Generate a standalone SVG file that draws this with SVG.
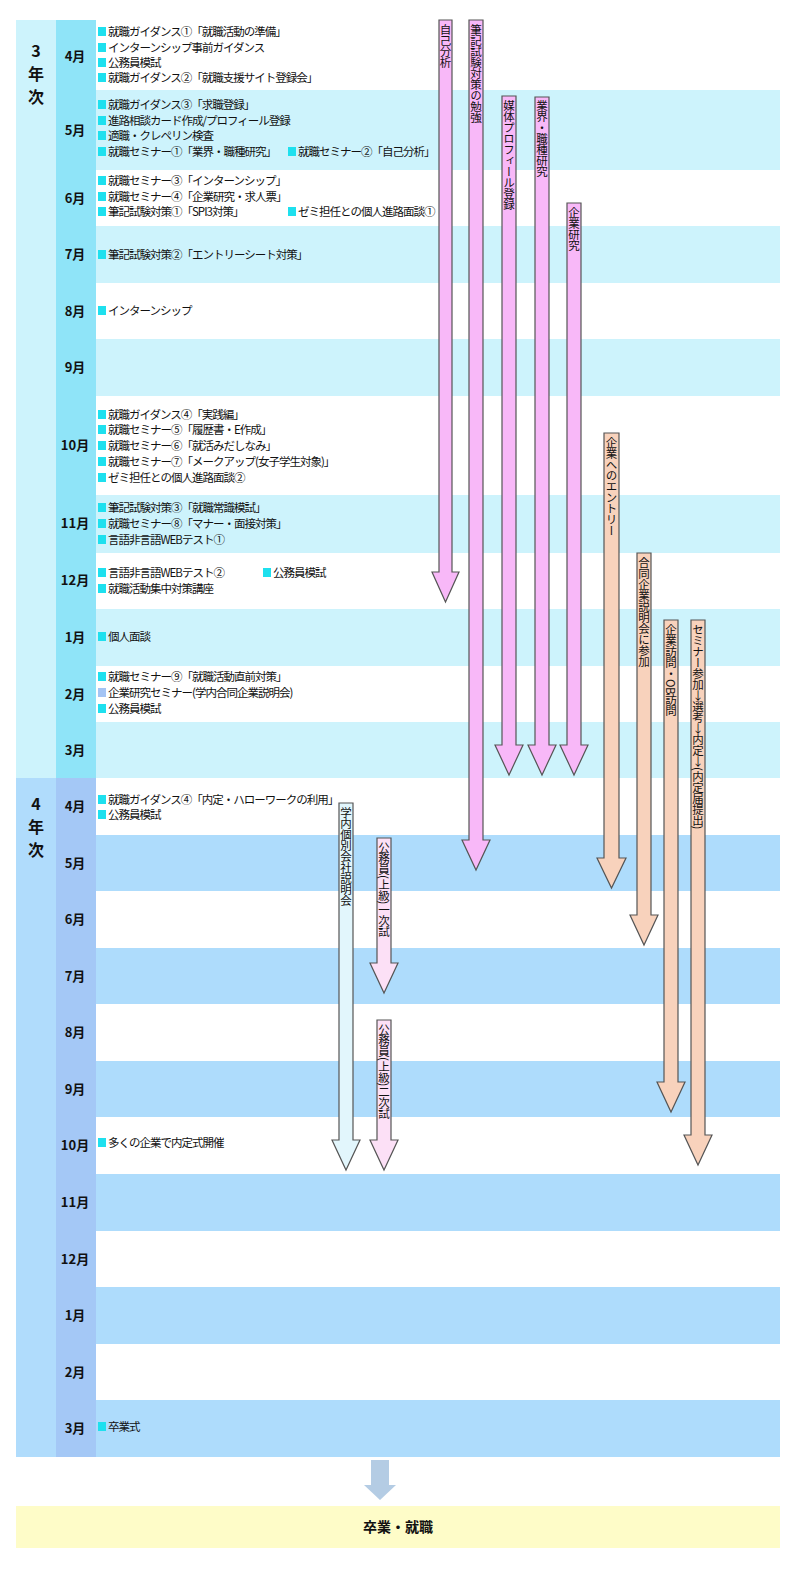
<svg xmlns="http://www.w3.org/2000/svg" width="800" height="1572" viewBox="0 0 800 1572">
<style>
text{font-family:"Noto Sans CJK JP","Liberation Sans",sans-serif;fill:#111}
.t{font-size:11.5px;letter-spacing:-1px}
.m{font-size:13px;font-weight:bold;text-anchor:middle}
.y{font-size:16px;font-weight:bold;text-anchor:middle}
.v{font-size:11.5px;writing-mode:vertical-rl;letter-spacing:-0.5px}
.u{text-orientation:upright}
.a{stroke:#555;stroke-width:1.2}
.pk{fill:#f8b8f8}.or{fill:#f8d2bc}.lb{fill:#e2f6fc}.lp{fill:#fce0f6}
</style>
<defs><rect id="sq" width="8" height="9" fill="#1ee0ee"/><rect id="sb" width="8" height="9" fill="#a4c4f4"/></defs>
<rect width="800" height="1572" fill="#fff"/>
<g id="year3">
<rect x="16" y="20" width="40" height="758" fill="#cdf3fc"/>
<rect x="56" y="20" width="40" height="758" fill="#8fe4f8"/>
<rect x="96" y="90" width="684" height="80" fill="#cdf3fc"/>
<rect x="96" y="226" width="684" height="57" fill="#cdf3fc"/>
<rect x="96" y="339" width="684" height="57" fill="#cdf3fc"/>
<rect x="96" y="495" width="684" height="58" fill="#cdf3fc"/>
<rect x="96" y="609" width="684" height="57" fill="#cdf3fc"/>
<rect x="96" y="722" width="684" height="56" fill="#cdf3fc"/>
<text class="y" x="36" y="57">3</text><text class="y" x="36" y="80">年</text><text class="y" x="36" y="103">次</text>
</g>
<g id="year4">
<rect x="16" y="778" width="40" height="679" fill="#b0dcfc"/>
<rect x="56" y="778" width="40" height="679" fill="#a4c8f6"/>
<rect x="96" y="835" width="684" height="56" fill="#aedcfc"/>
<rect x="96" y="948" width="684" height="56" fill="#aedcfc"/>
<rect x="96" y="1061" width="684" height="56" fill="#aedcfc"/>
<rect x="96" y="1174" width="684" height="57" fill="#aedcfc"/>
<rect x="96" y="1287" width="684" height="57" fill="#aedcfc"/>
<rect x="96" y="1400" width="684" height="57" fill="#aedcfc"/>
<text class="y" x="36" y="810">4</text><text class="y" x="36" y="833">年</text><text class="y" x="36" y="856">次</text>
</g>
<g id="months">
<text class="m" x="75" y="61">4月</text><text class="m" x="75" y="135">5月</text><text class="m" x="75" y="203">6月</text>
<text class="m" x="75" y="259">7月</text><text class="m" x="75" y="316">8月</text><text class="m" x="75" y="372">9月</text>
<text class="m" x="75" y="450">10月</text><text class="m" x="75" y="528">11月</text><text class="m" x="75" y="585">12月</text>
<text class="m" x="75" y="642">1月</text><text class="m" x="75" y="699">2月</text><text class="m" x="75" y="755">3月</text>
<text class="m" x="75" y="811">4月</text><text class="m" x="75" y="868">5月</text><text class="m" x="75" y="924">6月</text>
<text class="m" x="75" y="981">7月</text><text class="m" x="75" y="1037">8月</text><text class="m" x="75" y="1094">9月</text>
<text class="m" x="75" y="1150">10月</text><text class="m" x="75" y="1207">11月</text><text class="m" x="75" y="1264">12月</text>
<text class="m" x="75" y="1320">1月</text><text class="m" x="75" y="1377">2月</text><text class="m" x="75" y="1433">3月</text>
</g>
<g id="events">
<use href="#sq" x="98" y="27"/><text class="t" x="108" y="36">就職ガイダンス①「就職活動の準備」</text>
<use href="#sq" x="98" y="43"/><text class="t" x="108" y="52">インターンシップ事前ガイダンス</text>
<use href="#sq" x="98" y="58"/><text class="t" x="108" y="67">公務員模試</text>
<use href="#sq" x="98" y="73"/><text class="t" x="108" y="82">就職ガイダンス②「就職支援サイト登録会」</text>
<use href="#sq" x="98" y="100"/><text class="t" x="108" y="109">就職ガイダンス③「求職登録」</text>
<use href="#sq" x="98" y="116"/><text class="t" x="108" y="125">進路相談カード作成/プロフィール登録</text>
<use href="#sq" x="98" y="131"/><text class="t" x="108" y="140">適職・クレペリン検査</text>
<use href="#sq" x="98" y="147"/><text class="t" x="108" y="156">就職セミナー①「業界・職種研究」</text>
<use href="#sq" x="288" y="147"/><text class="t" x="298" y="156">就職セミナー②「自己分析」</text>
<use href="#sq" x="98" y="176"/><text class="t" x="108" y="185">就職セミナー③「インターンシップ」</text>
<use href="#sq" x="98" y="192"/><text class="t" x="108" y="201">就職セミナー④「企業研究・求人票」</text>
<use href="#sq" x="98" y="207"/><text class="t" x="108" y="216">筆記試験対策①「SPI3対策」</text>
<use href="#sq" x="288" y="207"/><text class="t" x="298" y="216">ゼミ担任との個人進路面談①</text>
<use href="#sq" x="98" y="250"/><text class="t" x="108" y="259">筆記試験対策②「エントリーシート対策」</text>
<use href="#sq" x="98" y="306"/><text class="t" x="108" y="315">インターンシップ</text>
<use href="#sq" x="98" y="410"/><text class="t" x="108" y="419">就職ガイダンス④「実践編」</text>
<use href="#sq" x="98" y="425"/><text class="t" x="108" y="434">就職セミナー⑤「履歴書・E作成」</text>
<use href="#sq" x="98" y="441"/><text class="t" x="108" y="450">就職セミナー⑥「就活みだしなみ」</text>
<use href="#sq" x="98" y="457"/><text class="t" x="108" y="466">就職セミナー⑦「メークアップ(女子学生対象)」</text>
<use href="#sq" x="98" y="473"/><text class="t" x="108" y="482">ゼミ担任との個人進路面談②</text>
<use href="#sq" x="98" y="503"/><text class="t" x="108" y="512">筆記試験対策③「就職常識模試」</text>
<use href="#sq" x="98" y="519"/><text class="t" x="108" y="528">就職セミナー⑧「マナー・面接対策」</text>
<use href="#sq" x="98" y="535"/><text class="t" x="108" y="544">言語非言語WEBテスト①</text>
<use href="#sq" x="98" y="568"/><text class="t" x="108" y="577">言語非言語WEBテスト②</text>
<use href="#sq" x="263" y="568"/><text class="t" x="273" y="577">公務員模試</text>
<use href="#sq" x="98" y="584"/><text class="t" x="108" y="593">就職活動集中対策講座</text>
<use href="#sq" x="98" y="632"/><text class="t" x="108" y="641">個人面談</text>
<use href="#sq" x="98" y="672"/><text class="t" x="108" y="681">就職セミナー⑨「就職活動直前対策」</text>
<use href="#sb" x="98" y="688"/><text class="t" x="108" y="697">企業研究セミナー(学内合同企業説明会)</text>
<use href="#sq" x="98" y="704"/><text class="t" x="108" y="713">公務員模試</text>
<use href="#sq" x="98" y="795"/><text class="t" x="108" y="804">就職ガイダンス④「内定・ハローワークの利用」</text>
<use href="#sq" x="98" y="810"/><text class="t" x="108" y="819">公務員模試</text>
<use href="#sq" x="98" y="1138"/><text class="t" x="108" y="1147">多くの企業で内定式開催</text>
<use href="#sq" x="98" y="1422"/><text class="t" x="108" y="1431">卒業式</text>
</g>
<g id="connectors">
<path class="a pk" d="M439,20H452V572H459L445.5,602L432,572H439Z"/>
<path class="a pk" d="M469,20H483V840H490L476,870L462,840H469Z"/>
<path class="a pk" d="M502,96H516V745H523L509,775L495,745H502Z"/>
<path class="a pk" d="M535,97H549V745H556L542,775L528,745H535Z"/>
<path class="a pk" d="M567,203H581V745H588L574,775L560,745H567Z"/>
<path class="a or" d="M604,433H619V858H626L611.5,888L597,858H604Z"/>
<path class="a or" d="M637,553H651V915H658L644,945L630,915H637Z"/>
<path class="a or" d="M664,620H678V1082H685L671,1112L657,1082H664Z"/>
<path class="a or" d="M691,620H705V1135H712L698,1165L684,1135H691Z"/>
<path class="a lb" d="M339,803H353V1140H360L346,1170L332,1140H339Z"/>
<path class="a lp" d="M377,838H391V963H398L384,993L370,963H377Z"/>
<path class="a lp" d="M377,1020H391V1140H398L384,1170L370,1140H377Z"/>
<path d="M371,1460H389V1485H396L380,1500L364,1485H371Z" fill="#b4cce4"/>
</g>
<g id="labels">
<text class="v" x="445.5" y="24">自己分析</text>
<text class="v" x="476" y="24">筆記試験対策の勉強</text>
<text class="v" x="509" y="100">媒体プロフィール登録</text>
<text class="v" x="542" y="100">業界・職種研究</text>
<text class="v" x="574" y="207">企業研究</text>
<text class="v" x="611.5" y="437">企業へのエントリー</text>
<text class="v" x="644" y="557">合同企業説明会に参加</text>
<text class="v" x="671" y="624">企業訪問・OB訪問</text>
<text class="v" x="698" y="624">セミナー参加<tspan class="u">↓</tspan>選考<tspan class="u">↓</tspan>内定<tspan class="u">↓</tspan>(内定届提出)</text>
<text class="v" x="346" y="807">学内個別会社説明会</text>
<text class="v" x="384" y="842">公務員(上級)一次試</text>
<text class="v" x="384" y="1024">公務員(上級)二次試</text>
</g>
<g id="goal">
<rect x="16" y="1506" width="764" height="42" fill="#fefcc8"/>
<text x="398" y="1532" style="font-size:14px;font-weight:bold;text-anchor:middle">卒業・就職</text>
</g>
</svg>
